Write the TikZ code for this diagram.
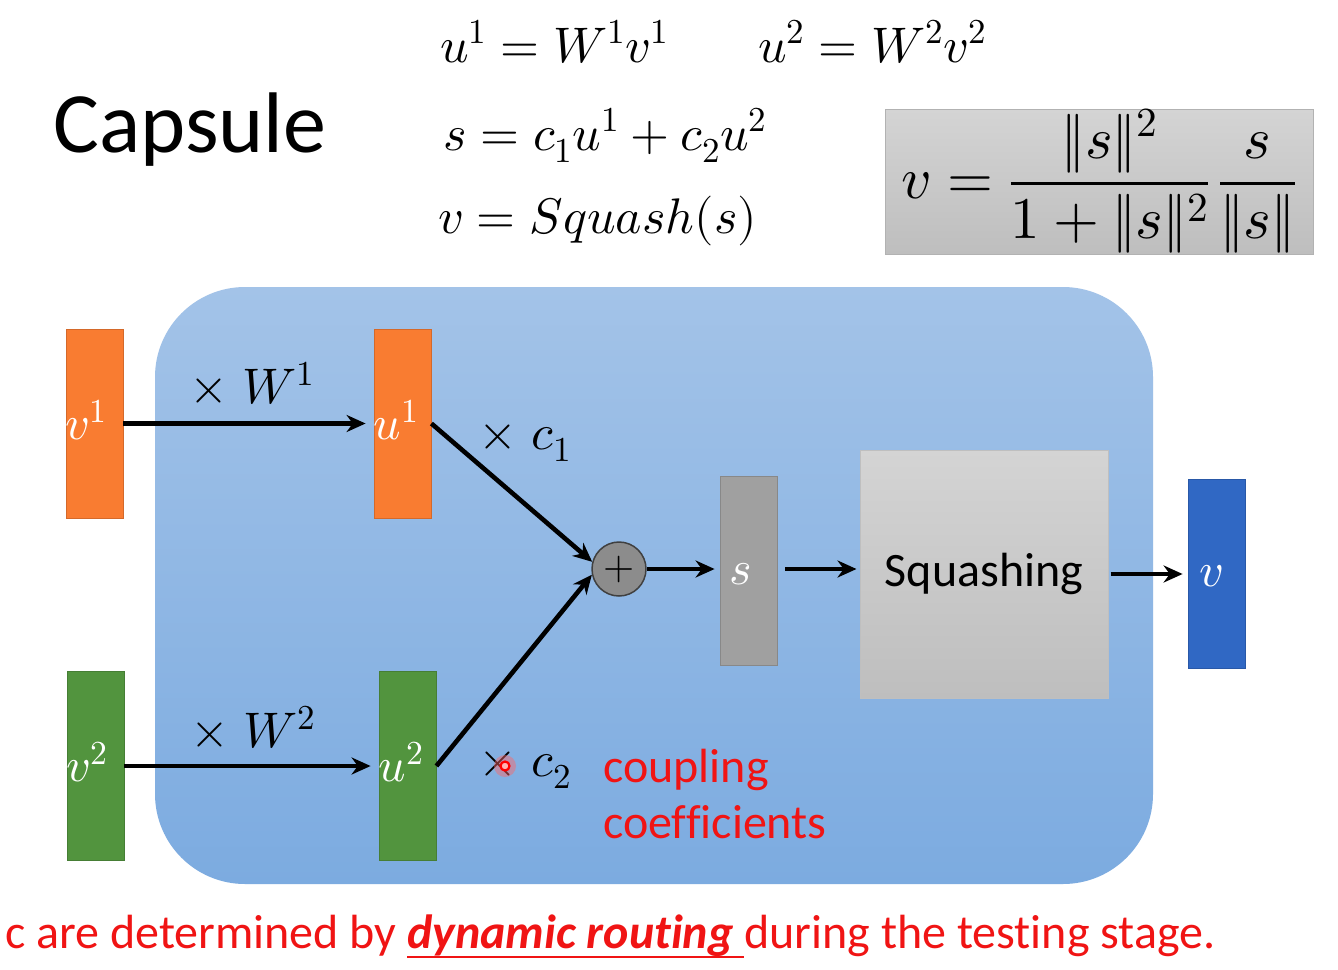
\documentclass[tikz,border=0pt]{standalone}
\usepackage{fontspec}
\usepackage{unicode-math}
\setmainfont{Carlito}[Ligatures=NoCommon]
\setmathfont{Latin Modern Math}
\usetikzlibrary{arrows.meta,calc}
\definecolor{cOrange}{RGB}{249,124,49}
\definecolor{cGreen}{RGB}{82,148,62}
\definecolor{cGrayS}{RGB}{160,160,160}
\definecolor{cVBlue}{RGB}{48,104,196}
\definecolor{cBoxTop}{RGB}{163,195,232}
\definecolor{cBoxBot}{RGB}{124,171,224}
\definecolor{cSqTop}{RGB}{212,212,212}
\definecolor{cSqBot}{RGB}{190,190,190}
\definecolor{cRed}{RGB}{240,20,20}
\newcommand\redul[1]{\setbox0\hbox{#1}\rlap{\color{cRed}\rule[-10pt]{\wd0}{2.5pt}}\box0}
\begin{document}
\begin{tikzpicture}[x=1pt,y=-1pt,
  bar/.style={draw=#1!85!black, line width=0.8pt, fill=#1, minimum width=57pt, minimum height=189pt, inner sep=0pt},
  arr/.style={line width=4.6pt, -{Stealth[length=19pt,width=17pt]}},
  eq/.style={font=\fontsize{50}{58}\selectfont, inner sep=0pt, anchor=base west},
  lab/.style={font=\fontsize{50}{58}\selectfont, inner sep=0pt},
  inlab/.style={font=\fontsize{48}{54}\selectfont, text=white, inner sep=0pt},
  red text/.style={text=cRed, inner sep=0pt, anchor=base west}
]
\useasboundingbox (0,0) rectangle (1338,969);
\fill[white] (0,0) rectangle (1338,969);

% title and equations
\node[font=\fontsize{86}{90}\selectfont, inner sep=0pt, anchor=base west] (title) at (53,152) {Capsule};
\node[eq] (eq1) at (440,62) {$u^1=W^1v^1$};
\node[eq] (eq2) at (758,62) {$u^2=W^2v^2$};
\node[eq] (eq3) at (443,150) {$s=c_1u^1+c_2u^2$};
\node[eq] (eq4) at (438,233) {$v=Squash(s)$};
\node[draw=black!30, line width=1pt, top color=cSqTop, bottom color=cSqBot, minimum width=428pt, minimum height=145pt, inner sep=0pt,
  font=\fontsize{59}{64}\selectfont] (formula) at (1099,181.5)
  {$\displaystyle v=\frac{\|s\|^2}{1+\|s\|^2}\,\frac{s}{\|s\|}$};

% capsule box
\node[rounded corners=90pt, top color=cBoxTop, bottom color=cBoxBot, minimum width=998pt, minimum height=597pt, inner sep=0pt] (box) at (654,585.5) {};

% bars
\node[bar=cOrange] (v1) at (94.5,423.5) {};
\node[bar=cOrange] (u1) at (402.5,423.5) {};
\node[bar=cGreen] (v2) at (95.5,766) {};
\node[bar=cGreen] (u2) at (407.5,766) {};
\node[bar=cGrayS] (s) at (748.5,571) {};
\node[bar=cVBlue] (v) at (1216.5,574) {};

\node[inlab] (lv1) at (86,420) {$v^1$};
\node[inlab] (lu1) at (396,420) {$u^1$};
\node[inlab] (lv2) at (87,762) {$v^2$};
\node[inlab] (lu2) at (401,762) {$u^2$};
\node[inlab] (ls) at (741,574) {$s$};
\node[inlab] (lv) at (1211,576) {$v$};

% plus and squashing
\node[circle, draw=black!75, line width=1.5pt, fill=black!45, minimum size=54pt, inner sep=0pt, font=\fontsize{40}{40}\selectfont] (plus) at (619,569) {$+$};
\node[draw=black!25, line width=1pt, top color=cSqTop, bottom color=cSqBot, minimum width=248pt, minimum height=248pt, inner sep=0pt,
  font=\fontsize{48}{56}\selectfont] (squash) at (984,574) {Squashing};

% arrows
\draw[arr, shorten >=8pt] (v1.east) -- (u1.west);
\draw[arr, shorten >=8pt] (v2.east) -- (u2.west);
\draw[arr] (u1.east) -- (plus.165);
\draw[arr] (u2.east) -- (plus.192);
\draw[arr, shorten >=5pt] (plus.east) -- (plus.east -| s.west);
\draw[arr, shorten <=8pt, shorten >=3pt] (s.east |- plus.east) -- (s.east |- plus.east -| squash.west);
\draw[arr, shorten <=2pt, shorten >=5pt] (squash.east) -- (v.west);

% labels
\node[lab] (w1) at (252,383) {$\times\; W^1$};
\node[lab] (c1) at (525,443) {$\times\; c_1$};
\node[lab] (w2) at (253,727) {$\times\; W^2$};
\node[lab] (c2) at (525,770) {$\times\; c_2$};
\fill[red!60, opacity=0.45] (505,766) circle (11);
\draw[red, line width=2.2pt, fill=white!70!red] (505,766) circle (4.5);

\node[red text, font=\fontsize{48}{57}\selectfont] (coup1) at (603,782) {coupling};
\node[red text, font=\fontsize{48}{57}\selectfont] (coup2) at (603,838) {coefficients};

\node[red text, font=\fontsize{48}{54}\selectfont] (bottom) at (5,948)
  {c are determined by \redul{\textbf{\textit{dynamic routing}}\ }during the testing stage.};
\end{tikzpicture}
\end{document}
